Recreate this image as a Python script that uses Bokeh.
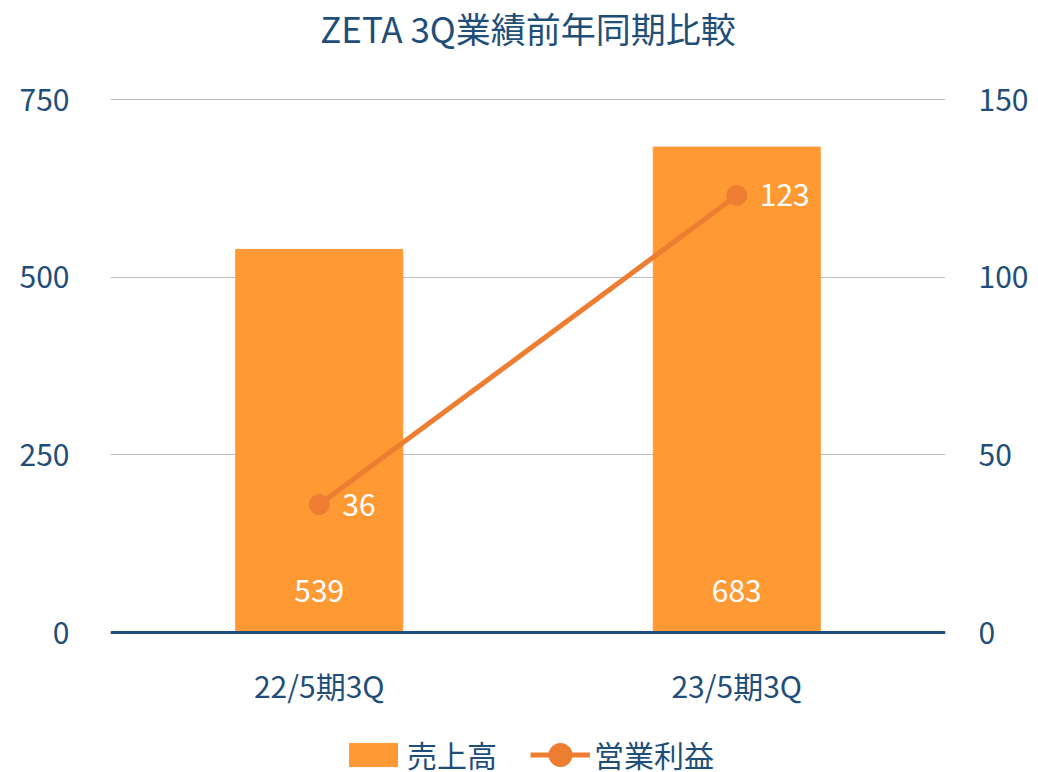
from bokeh.plotting import figure
from bokeh.models import (Range1d, LinearAxis, ColumnDataSource, LabelSet, Label, Legend,
                          LegendItem, FixedTicker, Span)
from bokeh.core.properties import value
from bokeh.embed import file_html
from bokeh.resources import INLINE

categories = ["22/5期3Q", "23/5期3Q"]
sales = [539, 683]
op_profit = [36, 123]
left_ticks = [0, 250, 500, 750]
right_ticks = [0, 50, 100, 150]
title_text = "ZETA 3Q業績前年同期比較"

FONT = "Noto Sans CJK JP"
NAVY = "#1f4e79"
BAR = "#ff9933"
LINE = "#ed7d31"

# layout geometry (pixels)
PLOT_H = 533          # height between 0 and the top tick
TOP_PAD = 99          # room above the top tick (title)
BOTTOM_PAD = 140      # room below zero (category labels, legend)
L_MAX, R_MAX = 750, 150
l_unit = L_MAX / PLOT_H
r_unit = R_MAX / PLOT_H

src = ColumnDataSource(dict(cat=categories, sales=sales, op=op_profit,
                            sales_txt=[str(v) for v in sales],
                            op_txt=[str(v) for v in op_profit],
                            zero=[0] * len(categories)))

p = figure(x_range=categories,
           y_range=Range1d(-BOTTOM_PAD * l_unit, L_MAX + TOP_PAD * l_unit),
           frame_width=835, frame_height=PLOT_H + TOP_PAD + BOTTOM_PAD,
           output_backend="svg", toolbar_location=None,
           min_border_left=110, min_border_right=93, min_border_top=0, min_border_bottom=0)
p.extra_y_ranges = {"right": Range1d(-BOTTOM_PAD * r_unit, R_MAX + TOP_PAD * r_unit)}
p.outline_line_color = None
p.xaxis.visible = False

p.xgrid.grid_line_color = None
p.ygrid.grid_line_color = "#bfbfbf"
p.ygrid.grid_line_width = 1
p.ygrid.ticker = FixedTicker(ticks=left_ticks)

bars = p.vbar(x="cat", top="sales", width=0.4, color=BAR, source=src)
p.add_layout(Span(location=0, dimension="width", line_color=NAVY, line_width=3))
line = p.line(x="cat", y="op", line_color=LINE, line_width=5, y_range_name="right", source=src)
dots = p.ellipse(x="cat", y="op", width=20, height=20, width_units="screen", height_units="screen",
                 fill_color=LINE, line_color=LINE, y_range_name="right", source=src)

p.add_layout(LabelSet(x="cat", y="zero", text="sales_txt", source=src, y_offset=42,
                      text_align="center", text_baseline="middle", text_color="white",
                      text_font=value(FONT), text_font_size="30px"))
p.add_layout(LabelSet(x="cat", y="op", text="op_txt", source=src, y_range_name="right",
                      x_offset=23, text_align="left", text_baseline="middle", text_color="white",
                      text_font=value(FONT), text_font_size="30px"))
# category labels under the zero line
p.add_layout(LabelSet(x="cat", y="zero", text="cat", source=src, y_offset=-52,
                      text_align="center", text_baseline="middle", text_color=NAVY,
                      text_font=value(FONT), text_font_size="30px"))

# title
p.add_layout(Label(x=len(categories) / 2, y=L_MAX + 72 * l_unit, text=title_text,
                   text_align="center", text_baseline="middle", text_color=NAVY,
                   text_font=FONT, text_font_size="35px"))

# axes
ya = p.yaxis[0]
ya.ticker = FixedTicker(ticks=left_ticks)
ya.axis_line_color = None
ya.major_tick_line_color = None
ya.minor_tick_line_color = None
ya.major_label_text_font = FONT
ya.major_label_text_font_size = "30px"
ya.major_label_text_color = NAVY
ya.major_label_standoff = 35

raxis = LinearAxis(y_range_name="right", ticker=FixedTicker(ticks=right_ticks))
raxis.axis_line_color = None
raxis.major_tick_line_color = None
raxis.minor_tick_line_color = None
raxis.major_label_text_font = FONT
raxis.major_label_text_font_size = "30px"
raxis.major_label_text_color = NAVY
raxis.major_label_standoff = 27
p.add_layout(raxis, "right")

legend = Legend(items=[LegendItem(label="売上高", renderers=[bars]),
                       LegendItem(label="営業利益", renderers=[line, dots])],
                orientation="horizontal", location=(233, -4),
                label_text_font=FONT, label_text_font_size="30px", label_text_color=NAVY,
                glyph_width=60, glyph_height=29, label_standoff=4, spacing=33,
                border_line_color=None, background_fill_alpha=0, padding=0, margin=0)
p.add_layout(legend)

open("out.html", "w").write(file_html(p, INLINE))
